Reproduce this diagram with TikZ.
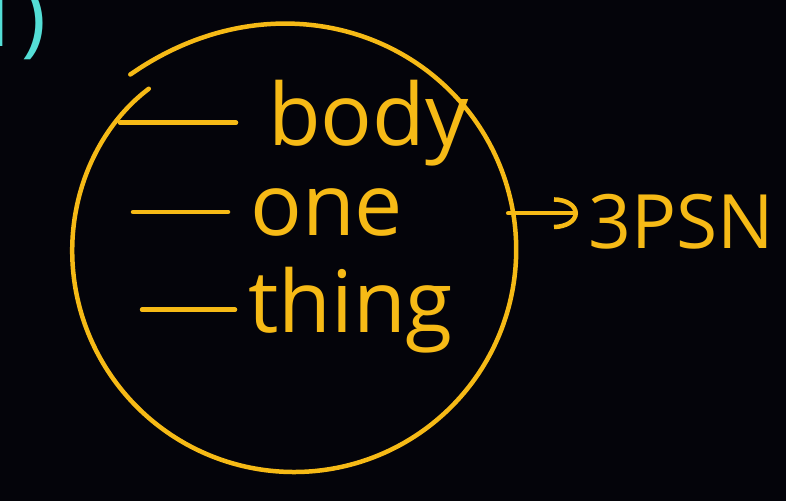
\documentclass[tikz,border=0pt]{standalone}
\usepackage{fontspec}
\setmainfont{Open Sans}
\usetikzlibrary{arrows.meta}
\definecolor{ink}{RGB}{246,186,22}
\definecolor{chalk}{RGB}{84,222,214}
\definecolor{board}{RGB}{4,4,10}
\begin{document}
\begin{tikzpicture}[x=1pt,y=-1pt,>={Arc Barb[length=24pt,width=32pt]},
  pen/.style={draw=ink,line width=4.5pt,line cap=round,line join=round},
  word/.style={text=ink,anchor=base west,inner sep=0pt,font=\fontsize{86}{90}\selectfont}]
\fill[board] (0,0) rectangle (786,501);
\useasboundingbox (0,0) rectangle (786,501);

\node[text=chalk,anchor=base east,inner sep=0pt,font=\fontsize{84}{88}\selectfont] (num) at (47,46) {1)};

% the ring, drawn in one stroke that starts a bit outside
\node[circle,minimum size=444pt,inner sep=0pt] (ring) at (294,250) {};
\draw[pen] plot[smooth,domain=-133:228,samples=150]
  ({294+(222+18*exp(-(\x+133)/30)-5*exp(-(228-\x)/15))*cos(\x)},
   {250+(222+18*exp(-(\x+133)/30)-5*exp(-(228-\x)/15))*sin(\x)});

\node[word] (body) at (268,145) {body};
\node[word] (one) at (250,235) {one};
\node[word] (thing) at (248,332) {thing};

\draw[pen] ([xshift=-148pt]body.west) -- ([xshift=-32pt]body.west);
\draw[pen] ([xshift=-117pt]one.west) -- ([xshift=-22pt]one.west);
\draw[pen] ([xshift=-106pt]thing.west) -- ([xshift=-13pt]thing.west);

\node[word,font=\fontsize{75}{80}\selectfont] (psn) at (588,248) {3PSN};
\draw[pen,->] ([xshift=-8pt,yshift=8pt]ring.east |- psn.west) -- ([xshift=-10pt,yshift=8pt]psn.west);
\end{tikzpicture}
\end{document}
